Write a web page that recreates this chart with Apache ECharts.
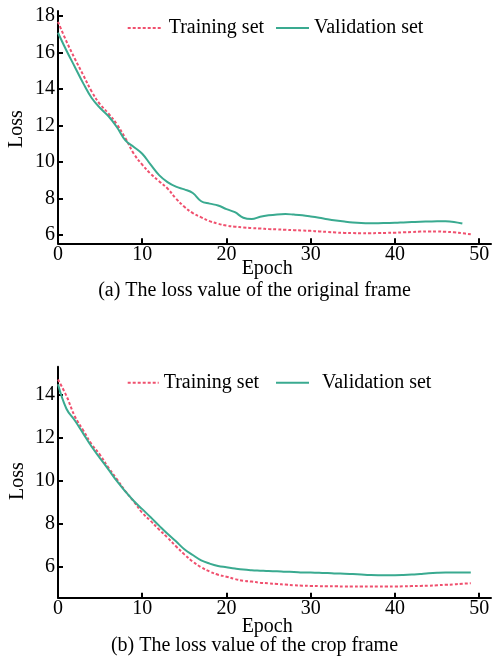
<!DOCTYPE html>
<html>
<head>
<meta charset="utf-8">
<script src="https://cdn.jsdelivr.net/npm/echarts@6/dist/echarts.min.js"></script>
<style>
html,body{margin:0;padding:0;background:#fff;}
#chart{width:492px;height:663px;}
</style>
</head>
<body>
<div id="chart"></div>
<script>
// ---- data ----
var xTicks = [0, 10, 20, 30, 40, 50];
var yTicksTop = [6, 8, 10, 12, 14, 16, 18];
var yTicksBottom = [6, 8, 10, 12, 14];

var topTrain = [17.67, 16.6, 15.65, 14.75, 13.85, 13.15, 12.65, 12.05, 11.3, 10.45,
  9.85, 9.35, 8.95, 8.55, 8.0, 7.55, 7.2, 6.97, 6.76, 6.62,
  6.52, 6.46, 6.42, 6.38, 6.36, 6.33, 6.31, 6.29, 6.27, 6.25,
  6.23, 6.2, 6.17, 6.14, 6.12, 6.11, 6.1, 6.1, 6.11, 6.12,
  6.13, 6.15, 6.17, 6.19, 6.2, 6.2, 6.18, 6.15, 6.1, 6.04];
var topVal = [17.07, 16.1, 15.2, 14.3, 13.5, 12.95, 12.5, 11.9, 11.18, 10.82,
  10.45, 9.85, 9.28, 8.9, 8.65, 8.5, 8.3, 7.85, 7.72, 7.62,
  7.42, 7.25, 6.95, 6.88, 7.0, 7.08, 7.13, 7.15, 7.12, 7.08,
  7.02, 6.95, 6.87, 6.8, 6.74, 6.69, 6.66, 6.65, 6.65, 6.66,
  6.67, 6.69, 6.71, 6.73, 6.74, 6.75, 6.75, 6.72, 6.63];

var bottomTrain = [14.72, 13.96, 13.0, 12.35, 11.7, 11.2, 10.6, 10.07, 9.52, 9.03,
  8.51, 8.13, 7.73, 7.35, 6.95, 6.57, 6.23, 5.97, 5.77, 5.62,
  5.53, 5.42, 5.34, 5.3, 5.25, 5.22, 5.19, 5.16, 5.13, 5.11,
  5.1, 5.09, 5.08, 5.08, 5.07, 5.07, 5.07, 5.07, 5.07, 5.07,
  5.07, 5.08, 5.09, 5.1, 5.11, 5.13, 5.15, 5.17, 5.2, 5.22];
var bottomVal = [14.5, 13.36, 12.81, 12.2, 11.59, 11.05, 10.52, 9.98, 9.5, 9.06,
  8.68, 8.3, 7.91, 7.53, 7.18, 6.81, 6.54, 6.29, 6.14, 6.03,
  5.97, 5.91, 5.86, 5.83, 5.81, 5.79, 5.78, 5.76, 5.75, 5.73,
  5.72, 5.71, 5.7, 5.68, 5.67, 5.65, 5.63, 5.61, 5.6, 5.6,
  5.6, 5.61, 5.63, 5.66, 5.69, 5.71, 5.72, 5.72, 5.72, 5.72];

function pairs(arr) { return arr.map(function (v, i) { return [i, v]; }); }

var FONT = 'Liberation Serif';
var TRAIN_COLOR = '#f0506e';
var VAL_COLOR = '#3aaa90';

function xAxisCfg(gi) {
  return {
    type: 'value', gridIndex: gi, min: 0, max: 51.4,
    axisLine: { show: true, lineStyle: { color: '#000', width: 2 } },
    axisTick: { show: true, inside: true, length: 5, customValues: xTicks, lineStyle: { color: '#000', width: 2 } },
    axisLabel: { customValues: xTicks, color: '#000', fontFamily: FONT, fontSize: 20, margin: 1 },
    splitLine: { show: false }
  };
}
function yAxisCfg(gi, mn, mx, ticks) {
  return {
    type: 'value', gridIndex: gi, min: mn, max: mx,
    axisLine: { show: true, lineStyle: { color: '#000', width: 2 } },
    axisTick: { show: true, inside: true, length: 5, customValues: ticks, lineStyle: { color: '#000', width: 2 } },
    axisLabel: { customValues: ticks, color: '#000', fontFamily: FONT, fontSize: 20, margin: 3 },
    splitLine: { show: false }
  };
}
function lineSeries(name, data, xi, dashed) {
  return {
    name: name, type: 'line', xAxisIndex: xi, yAxisIndex: xi,
    data: data, smooth: 0.4, symbol: 'none', showSymbol: false,
    lineStyle: dashed ? { color: TRAIN_COLOR, width: 2, type: [3, 2] } : { color: VAL_COLOR, width: 2 },
    itemStyle: { color: dashed ? TRAIN_COLOR : VAL_COLOR },
    animation: false
  };
}
function legendCfg(name, left, top, w, padLeft) {
  return {
    data: [name], left: left, top: top, padding: 0, orient: 'horizontal',
    itemWidth: w, itemHeight: 14, selectedMode: false,
    itemStyle: { opacity: 0, borderWidth: 0 },
    textStyle: { fontFamily: FONT, fontSize: 20, color: '#000', lineHeight: 20, padding: [0, 0, 0, padLeft] }
  };
}
function txt(x, y, s, rot) {
  return {
    type: 'text', x: x, y: y, rotation: rot || 0,
    style: { text: s, fontFamily: FONT, fontSize: 20, fill: '#000', align: 'center', verticalAlign: 'middle' }
  };
}

var chart = echarts.init(document.getElementById('chart'), null, { renderer: 'canvas' });
chart.setOption({
  animation: false,
  backgroundColor: '#fff',
  grid: [
    { left: 58, right: 1, top: 11, height: 232.3, outerBoundsMode: 'none', containLabel: false },
    { left: 58, right: 1, top: 366.7, height: 231, outerBoundsMode: 'none', containLabel: false }
  ],
  xAxis: [xAxisCfg(0), xAxisCfg(1)],
  yAxis: [yAxisCfg(0, 5.55, 18.26, yTicksTop), yAxisCfg(1, 4.55, 15.32, yTicksBottom)],
  legend: [
    legendCfg('Training set', 126.7, 18, 33, 3),
    legendCfg('Validation set', 275, 18, 33, 0),
    legendCfg('Training set', 126.7, 372.7, 31, 0),
    legendCfg('Validation set', 275, 372.7, 33, 8)
  ],
  series: [
    lineSeries('Training set', pairs(topTrain), 0, true),
    lineSeries('Validation set', pairs(topVal), 0, false),
    lineSeries('Training set', pairs(bottomTrain), 1, true),
    lineSeries('Validation set', pairs(bottomVal), 1, false)
  ],
  graphic: [
    txt(267.2, 268.5, 'Epoch'),
    txt(267.2, 627, 'Epoch'),
    txt(254.5, 290.3, '(a) The loss value of the original frame'),
    txt(254.5, 645.3, '(b) The loss value of the crop frame'),
    txt(17, 129, 'Loss', Math.PI / 2),
    txt(17.5, 481, 'Loss', Math.PI / 2)
  ]
});
</script>
</body>
</html>
